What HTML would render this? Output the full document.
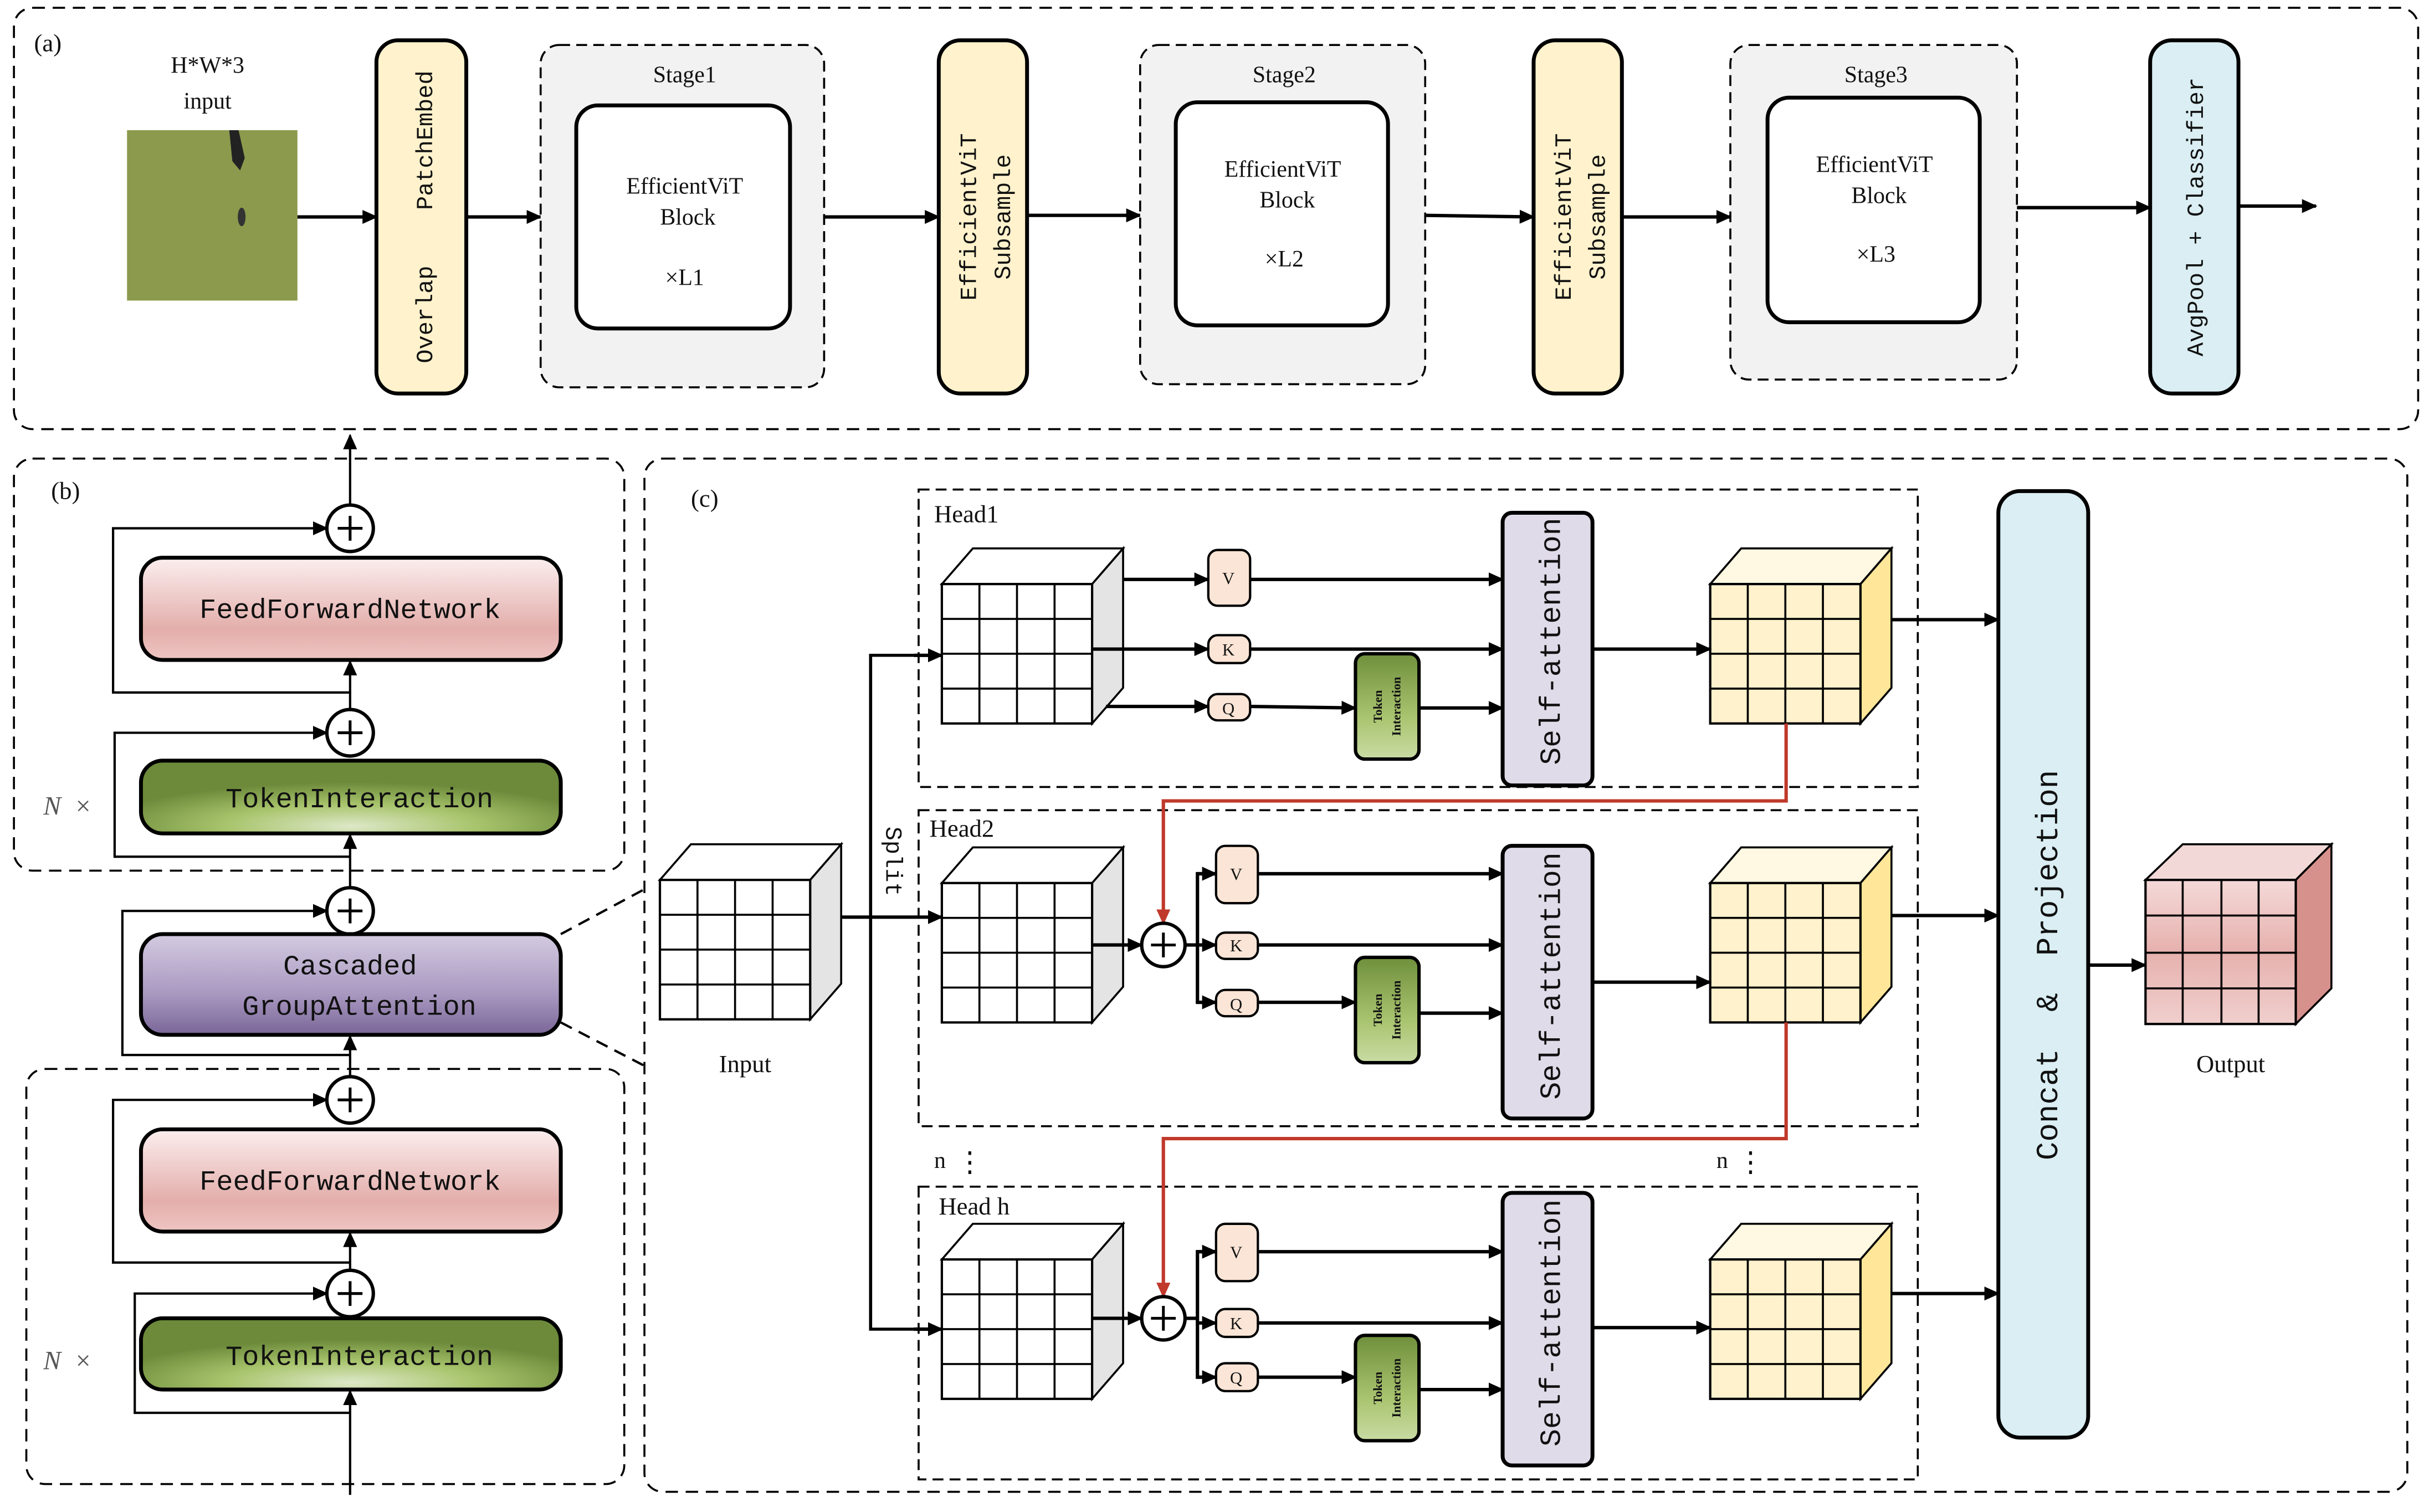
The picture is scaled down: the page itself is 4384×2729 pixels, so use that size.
<!DOCTYPE html>
<html><head><meta charset="utf-8"><style>
html,body{margin:0;padding:0;background:#fff;}
svg{display:block;}
text{font-family:"Liberation Mono","Noto Serif CJK SC",monospace;fill:#111;}
.s{font-family:"Liberation Serif","Noto Serif CJK SC",serif;}
</style></head><body>
<svg width="4384" height="2729" viewBox="0 0 1568 976" xmlns="http://www.w3.org/2000/svg">
<defs>
<marker id="ah" markerUnits="userSpaceOnUse" markerWidth="10" markerHeight="10" refX="9" refY="5" orient="auto"><path d="M0,0.5 L10,5 L0,9.5 Z" fill="#000"/></marker>
<marker id="ahr" markerUnits="userSpaceOnUse" markerWidth="10" markerHeight="10" refX="9" refY="5" orient="auto"><path d="M0,0.5 L10,5 L0,9.5 Z" fill="#c0392b"/></marker>
<linearGradient id="gffn" x1="0" y1="0" x2="0" y2="1"><stop offset="0" stop-color="#fbeeee"/><stop offset="0.7" stop-color="#e3aeab"/><stop offset="1" stop-color="#eec5c2"/></linearGradient>
<radialGradient id="gti" cx="0.5" cy="0.9" r="0.6"><stop offset="0" stop-color="#dde8c8"/><stop offset="0.5" stop-color="#a8c46c"/><stop offset="1" stop-color="#6c8a3a"/></radialGradient>
<linearGradient id="gti2" x1="0" y1="0" x2="0" y2="1"><stop offset="0" stop-color="#6f8f3c"/><stop offset="0.6" stop-color="#a9c46f"/><stop offset="1" stop-color="#c9dba4"/></linearGradient>
<linearGradient id="gca" x1="0" y1="0" x2="0" y2="1"><stop offset="0" stop-color="#d4cbe1"/><stop offset="0.6" stop-color="#a898c0"/><stop offset="1" stop-color="#7a6698"/></linearGradient>
<linearGradient id="gout" x1="0" y1="0" x2="0" y2="1"><stop offset="0" stop-color="#f4d9d8"/><stop offset="0.5" stop-color="#e6b1ae"/><stop offset="1" stop-color="#f0cfcd"/></linearGradient>
<g id="cw">
<polygon points="0,0 20,-23 117,-23 97,0" fill="#fff" stroke="#000" stroke-width="1.3"/>
<polygon points="97,0 117,-23 117,67 97,90" fill="#e4e4e4" stroke="#000" stroke-width="1.3"/>
<rect x="0" y="0" width="97" height="90" fill="#fff" stroke="#000" stroke-width="1.5"/>
<path d="M24.25,0V90M48.5,0V90M72.75,0V90M0,22.5H97M0,45H97M0,67.5H97" stroke="#000" stroke-width="1.3"/>
</g>
<g id="cy">
<polygon points="0,0 20,-23 117,-23 97,0" fill="#fff8e2" stroke="#000" stroke-width="1.3"/>
<polygon points="97,0 117,-23 117,67 97,90" fill="#ffe699" stroke="#000" stroke-width="1.3"/>
<rect x="0" y="0" width="97" height="90" fill="#fff2cc" stroke="#000" stroke-width="1.5"/>
<path d="M24.25,0V90M48.5,0V90M72.75,0V90M0,22.5H97M0,45H97M0,67.5H97" stroke="#000" stroke-width="1.3"/>
</g>
</defs>

<!-- Panel a -->
<rect x="9" y="5" width="1552" height="272" rx="12" fill="none" stroke="#000" stroke-width="1.3" stroke-dasharray="8,5"/>
<text x="22" y="33" font-size="16" class="s">(a)</text>
<text x="134" y="47" font-size="15" text-anchor="middle" class="s">H*W*3</text>
<text x="134" y="70" font-size="15" text-anchor="middle" class="s">input</text>
<rect x="82" y="84" width="110" height="110" fill="#8b9a4c"/>
<path d="M148,84 l6,0 l4,18 l-3,8 l-5,-6 z" fill="#222"/>
<ellipse cx="156" cy="140" rx="2.5" ry="6" fill="#333"/>

<g stroke="#000" stroke-width="2.2" fill="none">
<line x1="192" y1="140" x2="243" y2="140" marker-end="url(#ah)"/>
<line x1="301" y1="140" x2="349" y2="140" marker-end="url(#ah)"/>
<line x1="532" y1="140" x2="606" y2="140" marker-end="url(#ah)"/>
<line x1="663" y1="139" x2="736" y2="139" marker-end="url(#ah)"/>
<line x1="920" y1="139" x2="990" y2="140" marker-end="url(#ah)"/>
<line x1="1047" y1="140" x2="1117" y2="140" marker-end="url(#ah)"/>
<line x1="1302" y1="134" x2="1388" y2="134" marker-end="url(#ah)"/>
<line x1="1445" y1="133" x2="1495" y2="133" marker-end="url(#ah)"/>
</g>

<rect x="243" y="26" width="58" height="228" rx="14" fill="#fff2cc" stroke="#000" stroke-width="2.5"/>
<text transform="translate(279,140) rotate(-90)" font-size="15" text-anchor="middle" xml:space="preserve">Overlap    PatchEmbed</text>
<rect x="349" y="29" width="183" height="221" rx="12" fill="#f2f2f2" stroke="#000" stroke-width="1.3" stroke-dasharray="7,4"/>
<text x="442" y="53" font-size="15" text-anchor="middle" class="s">Stage1</text>
<rect x="372" y="68" width="138" height="144" rx="14" fill="#fff" stroke="#000" stroke-width="2.5"/>
<text x="442" y="125" font-size="15" text-anchor="middle" class="s">EfficientViT</text>
<text x="444" y="145" font-size="15" text-anchor="middle" class="s">Block</text>
<text x="442" y="184" font-size="15" text-anchor="middle" class="s">×L1</text>

<rect x="606" y="26" width="57" height="228" rx="14" fill="#fff2cc" stroke="#000" stroke-width="2.5"/>
<text transform="translate(630,140) rotate(-90)" font-size="15" text-anchor="middle">EfficientViT</text>
<text transform="translate(652,140) rotate(-90)" font-size="15" text-anchor="middle">Subsample</text>
<rect x="736" y="29" width="184" height="219" rx="12" fill="#f2f2f2" stroke="#000" stroke-width="1.3" stroke-dasharray="7,4"/>
<text x="829" y="53" font-size="15" text-anchor="middle" class="s">Stage2</text>
<rect x="759" y="66" width="137" height="144" rx="14" fill="#fff" stroke="#000" stroke-width="2.5"/>
<text x="828" y="114" font-size="15" text-anchor="middle" class="s">EfficientViT</text>
<text x="831" y="134" font-size="15" text-anchor="middle" class="s">Block</text>
<text x="829" y="172" font-size="15" text-anchor="middle" class="s">×L2</text>

<rect x="990" y="26" width="57" height="228" rx="14" fill="#fff2cc" stroke="#000" stroke-width="2.5"/>
<text transform="translate(1014,140) rotate(-90)" font-size="15" text-anchor="middle">EfficientViT</text>
<text transform="translate(1036,140) rotate(-90)" font-size="15" text-anchor="middle">Subsample</text>
<rect x="1117" y="29" width="185" height="216" rx="12" fill="#f2f2f2" stroke="#000" stroke-width="1.3" stroke-dasharray="7,4"/>
<text x="1211" y="53" font-size="15" text-anchor="middle" class="s">Stage3</text>
<rect x="1141" y="63" width="137" height="145" rx="14" fill="#fff" stroke="#000" stroke-width="2.5"/>
<text x="1210" y="111" font-size="15" text-anchor="middle" class="s">EfficientViT</text>
<text x="1213" y="131" font-size="15" text-anchor="middle" class="s">Block</text>
<text x="1211" y="169" font-size="15" text-anchor="middle" class="s">×L3</text>

<rect x="1388" y="26" width="57" height="228" rx="14" fill="#daeef3" stroke="#000" stroke-width="2.5"/>
<text transform="translate(1422,140) rotate(-90)" font-size="15" text-anchor="middle">AvgPool + Classifier</text>

<!-- Panel b -->
<rect x="9" y="296" width="394" height="266" rx="12" fill="none" stroke="#000" stroke-width="1.3" stroke-dasharray="8,5"/>
<rect x="17" y="690" width="386" height="268" rx="12" fill="none" stroke="#000" stroke-width="1.3" stroke-dasharray="8,5"/>
<text x="33" y="322" font-size="16" class="s">(b)</text>
<g stroke="#000" stroke-width="1.5" fill="none">
<line x1="226" y1="326" x2="226" y2="281" marker-end="url(#ah)"/>
<polyline points="226,447 73,447 73,341 211,341" marker-end="url(#ah)"/>
<line x1="226" y1="458" x2="226" y2="427" marker-end="url(#ah)"/>
<polyline points="226,553 74,553 74,473 211,473" marker-end="url(#ah)"/>
<line x1="226" y1="573" x2="226" y2="539" marker-end="url(#ah)"/>
<polyline points="226,681 79,681 79,588 211,588" marker-end="url(#ah)"/>
<line x1="226" y1="695" x2="226" y2="669" marker-end="url(#ah)"/>
<polyline points="226,815 73,815 73,710 211,710" marker-end="url(#ah)"/>
<line x1="226" y1="820" x2="226" y2="796" marker-end="url(#ah)"/>
<polyline points="226,912 87,912 87,835 211,835" marker-end="url(#ah)"/>
<line x1="226" y1="965" x2="226" y2="898" marker-end="url(#ah)"/>
<line x1="362" y1="603" x2="416" y2="574" stroke-dasharray="8,5"/>
<line x1="362" y1="660" x2="416" y2="688" stroke-dasharray="8,5"/>
</g>
<g fill="#fff" stroke="#000" stroke-width="2.2">
<circle cx="226" cy="341" r="15"/><circle cx="226" cy="473" r="15"/><circle cx="226" cy="588" r="15"/><circle cx="226" cy="710" r="15"/><circle cx="226" cy="835" r="15"/>
</g>
<g stroke="#000" stroke-width="1.8">
<path d="M218,341H234M226,333V349"/><path d="M218,473H234M226,465V481"/><path d="M218,588H234M226,580V596"/><path d="M218,710H234M226,702V718"/><path d="M218,835H234M226,827V843"/>
</g>
<rect x="91" y="360" width="271" height="66" rx="14" fill="url(#gffn)" stroke="#000" stroke-width="2.5"/>
<text x="226" y="399" font-size="18" text-anchor="middle">FeedForwardNetwork</text>
<rect x="91" y="491" width="271" height="47" rx="14" fill="url(#gti)" stroke="#000" stroke-width="2.5"/>
<text x="232" y="521" font-size="18" text-anchor="middle">TokenInteraction</text>
<text x="28" y="526" font-size="17" class="s" font-style="italic" style="fill:#555" xml:space="preserve">N  ×</text>
<rect x="91" y="603" width="271" height="65" rx="14" fill="url(#gca)" stroke="#000" stroke-width="2.5"/>
<text x="226" y="629" font-size="18" text-anchor="middle">Cascaded</text>
<text x="232" y="655" font-size="18" text-anchor="middle">GroupAttention</text>
<rect x="91" y="729" width="271" height="66" rx="14" fill="url(#gffn)" stroke="#000" stroke-width="2.5"/>
<text x="226" y="768" font-size="18" text-anchor="middle">FeedForwardNetwork</text>
<rect x="91" y="851" width="271" height="46" rx="14" fill="url(#gti)" stroke="#000" stroke-width="2.5"/>
<text x="232" y="881" font-size="18" text-anchor="middle">TokenInteraction</text>
<text x="28" y="884" font-size="17" class="s" font-style="italic" style="fill:#555" xml:space="preserve">N  ×</text>

<!-- Panel c -->
<rect x="416" y="296" width="1138" height="667" rx="12" fill="none" stroke="#000" stroke-width="1.3" stroke-dasharray="8,5"/>
<text x="446" y="327" font-size="16" class="s">(c)</text>
<rect x="593" y="316" width="645" height="192" fill="none" stroke="#000" stroke-width="1.3" stroke-dasharray="7,4"/>
<rect x="593" y="523" width="645" height="204" fill="none" stroke="#000" stroke-width="1.3" stroke-dasharray="7,4"/>
<rect x="593" y="766" width="645" height="189" fill="none" stroke="#000" stroke-width="1.3" stroke-dasharray="7,4"/>
<text x="603" y="337" font-size="16" class="s">Head1</text>
<text x="600" y="540" font-size="16" class="s">Head2</text>
<text x="606" y="784" font-size="16" class="s">Head h</text>
<text x="603" y="754" font-size="15" class="s">n</text><text x="617" y="756" font-size="18" class="s">⋮</text>
<text x="1108" y="754" font-size="15" class="s">n</text><text x="1121" y="756" font-size="18" class="s">⋮</text>

<use href="#cw" x="426" y="568"/>
<text x="481" y="692" font-size="16" text-anchor="middle" class="s">Input</text>
<text transform="translate(572,556) rotate(90)" font-size="15" text-anchor="middle">Split</text>

<g stroke="#000" stroke-width="2.2" fill="none">
<line x1="543" y1="592" x2="608" y2="592" marker-end="url(#ah)"/>
<polyline points="608,423 562,423 562,858 608,858" stroke-width="2"/>
<line x1="590" y1="423" x2="608" y2="423" marker-end="url(#ah)"/>
<line x1="590" y1="858" x2="608" y2="858" marker-end="url(#ah)"/>
</g>

<!-- Head1 -->
<use href="#cw" x="608" y="377"/>
<use href="#cy" x="1104" y="377"/>
<g stroke="#000" stroke-width="2.2" fill="none">
<line x1="725" y1="374" x2="780" y2="374" marker-end="url(#ah)"/>
<line x1="807" y1="374" x2="970" y2="374" marker-end="url(#ah)"/>
<line x1="705" y1="419" x2="780" y2="419" marker-end="url(#ah)"/>
<line x1="807" y1="419" x2="970" y2="419" marker-end="url(#ah)"/>
<line x1="714" y1="456" x2="780" y2="456" marker-end="url(#ah)"/>
<line x1="807" y1="456" x2="875" y2="457" marker-end="url(#ah)"/>
<line x1="916" y1="457" x2="970" y2="457" marker-end="url(#ah)"/>
<line x1="1028" y1="419" x2="1104" y2="419" marker-end="url(#ah)"/>
<line x1="1221" y1="400" x2="1290" y2="400" marker-end="url(#ah)"/>
</g>
<!-- Head2 -->
<use href="#cw" x="608" y="570"/>
<use href="#cy" x="1104" y="570"/>
<g stroke="#000" stroke-width="2.2" fill="none">
<line x1="705" y1="610" x2="737" y2="610" marker-end="url(#ah)"/>
<polyline points="765,610 773,610"/>
<polyline points="785,564 773,564 773,647 785,647"/>
<line x1="773" y1="564" x2="785" y2="564" marker-end="url(#ah)"/>
<line x1="773" y1="610" x2="785" y2="610" marker-end="url(#ah)"/>
<line x1="773" y1="647" x2="785" y2="647" marker-end="url(#ah)"/>
<line x1="812" y1="564" x2="970" y2="564" marker-end="url(#ah)"/>
<line x1="812" y1="610" x2="970" y2="610" marker-end="url(#ah)"/>
<line x1="812" y1="647" x2="875" y2="647" marker-end="url(#ah)"/>
<line x1="916" y1="654" x2="970" y2="654" marker-end="url(#ah)"/>
<line x1="1028" y1="634" x2="1104" y2="634" marker-end="url(#ah)"/>
<line x1="1221" y1="591" x2="1290" y2="591" marker-end="url(#ah)"/>
</g>
<!-- Head h -->
<use href="#cw" x="608" y="813"/>
<use href="#cy" x="1104" y="813"/>
<g stroke="#000" stroke-width="2.2" fill="none">
<line x1="705" y1="851" x2="737" y2="851" marker-end="url(#ah)"/>
<polyline points="765,851 773,851"/>
<polyline points="785,808 773,808 773,889 785,889"/>
<line x1="773" y1="808" x2="785" y2="808" marker-end="url(#ah)"/>
<line x1="773" y1="854" x2="785" y2="854" marker-end="url(#ah)"/>
<line x1="773" y1="889" x2="785" y2="889" marker-end="url(#ah)"/>
<line x1="812" y1="808" x2="970" y2="808" marker-end="url(#ah)"/>
<line x1="812" y1="854" x2="970" y2="854" marker-end="url(#ah)"/>
<line x1="812" y1="889" x2="875" y2="889" marker-end="url(#ah)"/>
<line x1="916" y1="897" x2="970" y2="897" marker-end="url(#ah)"/>
<line x1="1028" y1="857" x2="1104" y2="857" marker-end="url(#ah)"/>
<line x1="1221" y1="835" x2="1290" y2="835" marker-end="url(#ah)"/>
<line x1="1348" y1="623" x2="1385" y2="623" marker-end="url(#ah)"/>
</g>
<!-- red cascade -->
<g stroke="#c0392b" stroke-width="2.2" fill="none">
<polyline points="1153,467 1153,517 751,517 751,596" marker-end="url(#ahr)"/>
<polyline points="1153,660 1153,735 751,735 751,837" marker-end="url(#ahr)"/>
</g>
<g fill="#fff" stroke="#000" stroke-width="2.2">
<circle cx="751" cy="610" r="14"/><circle cx="751" cy="851" r="14"/>
</g>
<g stroke="#000" stroke-width="1.8"><path d="M743,610H759M751,602V618"/><path d="M743,851H759M751,843V859"/></g>

<!-- QKV boxes -->
<g fill="#fbe5d6" stroke="#000" stroke-width="1.5">
<rect x="780" y="355" width="27" height="36" rx="6"/><rect x="780" y="410" width="27" height="18" rx="6"/><rect x="780" y="448" width="27" height="17" rx="6"/>
<rect x="785" y="546" width="27" height="37" rx="6"/><rect x="785" y="602" width="27" height="17" rx="6"/><rect x="785" y="639" width="27" height="17" rx="6"/>
<rect x="785" y="790" width="27" height="37" rx="6"/><rect x="785" y="845" width="27" height="18" rx="6"/><rect x="785" y="880" width="27" height="18" rx="6"/>
</g>
<g font-size="11" text-anchor="middle" class="s">
<text x="793" y="377" class="s">V</text><text x="793" y="423" class="s">K</text><text x="793" y="461" class="s">Q</text>
<text x="798" y="568" class="s">V</text><text x="798" y="614" class="s">K</text><text x="798" y="652" class="s">Q</text>
<text x="798" y="812" class="s">V</text><text x="798" y="858" class="s">K</text><text x="798" y="893" class="s">Q</text>
</g>
<!-- token interaction small -->
<g fill="url(#gti2)" stroke="#000" stroke-width="2.2">
<rect x="875" y="422" width="41" height="68" rx="6"/><rect x="875" y="618" width="41" height="68" rx="6"/><rect x="875" y="862" width="41" height="68" rx="6"/>
</g>
<g font-size="8" text-anchor="middle" font-weight="bold" class="s">
<text transform="translate(892,456) rotate(-90)" class="s">Token</text><text transform="translate(904,456) rotate(-90)" class="s">Interaction</text>
<text transform="translate(892,652) rotate(-90)" class="s">Token</text><text transform="translate(904,652) rotate(-90)" class="s">Interaction</text>
<text transform="translate(892,896) rotate(-90)" class="s">Token</text><text transform="translate(904,896) rotate(-90)" class="s">Interaction</text>
</g>
<!-- self attention -->
<g fill="#e0dbe8" stroke="#000" stroke-width="2.5">
<rect x="970" y="331" width="58" height="176" rx="6"/><rect x="970" y="546" width="58" height="176" rx="6"/><rect x="970" y="770" width="58" height="176" rx="6"/>
</g>
<g font-size="19" text-anchor="middle">
<text transform="translate(1007,414) rotate(-90)">Self-attention</text>
<text transform="translate(1007,630) rotate(-90)">Self-attention</text>
<text transform="translate(1007,854) rotate(-90)">Self-attention</text>
</g>

<!-- concat -->
<rect x="1290" y="317" width="58" height="611" rx="14" fill="#daeef3" stroke="#000" stroke-width="2.5"/>
<text transform="translate(1328,623) rotate(-90)" font-size="20" text-anchor="middle" xml:space="preserve">Concat  &amp;  Projection</text>

<!-- output cube -->
<polygon points="1385,568 1409,545 1505,545 1482,568" fill="#f2d9d8" stroke="#000" stroke-width="1.3"/>
<polygon points="1482,568 1505,545 1505,638 1482,661" fill="#d7918d" stroke="#000" stroke-width="1.3"/>
<rect x="1385" y="568" width="97" height="93" fill="url(#gout)" stroke="#000" stroke-width="1.5"/>
<path d="M1409,568V661M1434,568V661M1458,568V661M1385,591H1482M1385,615H1482M1385,638H1482" stroke="#000" stroke-width="1.3"/>
<text x="1440" y="692" font-size="16" text-anchor="middle" class="s">Output</text>
</svg>
</body></html>
